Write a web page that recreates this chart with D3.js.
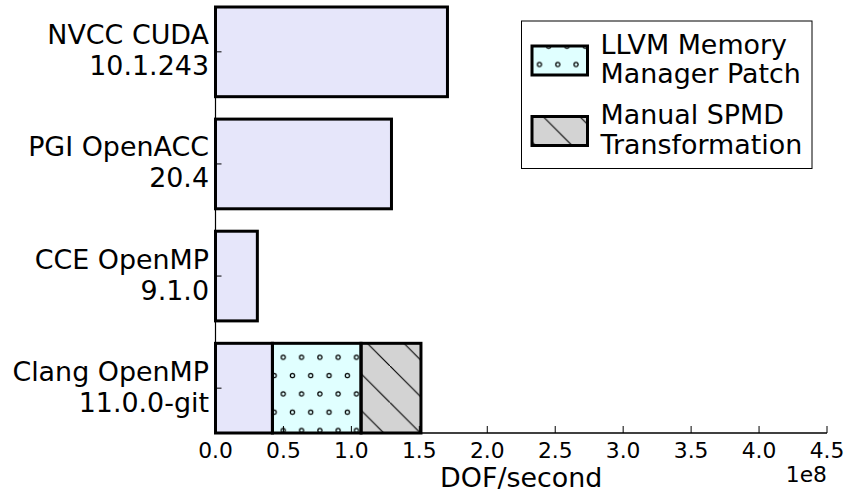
<!DOCTYPE html>
<html>
<head>
<meta charset="utf-8">
<script src="https://cdn.jsdelivr.net/npm/d3@7"></script>
<style>
  html, body { margin: 0; padding: 0; background: #fff; }
  svg { display: block; font-family: "DejaVu Sans", sans-serif; }
</style>
</head>
<body>
<div id="chart"></div>
<script>
// ---- data ----
const categories = [
  ["NVCC CUDA", "10.1.243"],
  ["PGI OpenACC", "20.4"],
  ["CCE OpenMP", "9.1.0"],
  ["Clang OpenMP", "11.0.0-git"]
];
const baseValues = [1.707e8, 1.295e8, 0.308e8, 0.419e8];
const llvmPatchValues = [0, 0, 0, 0.652e8];
const spmdValues = [0, 0, 0, 0.441e8];
const xTicks = [0, 0.5e8, 1.0e8, 1.5e8, 2.0e8, 2.5e8, 3.0e8, 3.5e8, 4.0e8, 4.5e8];
const xTickLabels = ["0.0", "0.5", "1.0", "1.5", "2.0", "2.5", "3.0", "3.5", "4.0", "4.5"];
const legendLabels = [["LLVM Memory", "Manager Patch"], ["Manual SPMD", "Transformation"]];
const xLabel = "DOF/second";
const offsetLabel = "1e8";

const W = 848, H = 496;
const plot = { left: 215.5, right: 827, top: 7, bottom: 433 };
const bigFont = 26.9, smallFont = 21.8;

const svg = d3.select("#chart").append("svg").attr("width", W).attr("height", H);
const defs = svg.append("defs");

// circle hatch
const cp = 18.3;
const pc = defs.append("pattern").attr("id", "hatchO").attr("patternUnits", "userSpaceOnUse")
  .attr("x", 8.8).attr("y", 27.9).attr("width", cp).attr("height", cp * 2);
[[0,0],[cp,0],[0,2*cp],[cp,2*cp],[cp/2,cp]].forEach(([cx, cy]) => {
  pc.append("circle").attr("cx", cx).attr("cy", cy).attr("r", 2.1)
    .attr("fill", "none").attr("stroke", "#000").attr("stroke-width", 1.2);
});
// diagonal hatch
const dp = 36.6;
const pd = defs.append("pattern").attr("id", "hatchD").attr("patternUnits", "userSpaceOnUse")
  .attr("x", 24).attr("y", 0).attr("width", dp).attr("height", dp);
pd.append("line").attr("x1", -2).attr("y1", -2).attr("x2", dp + 2).attr("y2", dp + 2)
  .attr("stroke", "#000").attr("stroke-width", 1.1);

const x = d3.scaleLinear().domain([0, 4.5e8]).range([plot.left, plot.right]);
const y = d3.scaleBand().domain(d3.range(categories.length))
  .range([plot.top, plot.bottom]).paddingInner(0.2).paddingOuter(0);

const segs = [];
categories.forEach((c, i) => {
  const b = baseValues[i], l = llvmPatchValues[i], s = spmdValues[i];
  segs.push({ i, x0: 0, x1: b, fill: "#e6e6fa", pat: null });
  if (l > 0) segs.push({ i, x0: b, x1: b + l, fill: "#e0ffff", pat: "url(#hatchO)" });
  if (s > 0) segs.push({ i, x0: b + l, x1: b + l + s, fill: "#d3d3d3", pat: "url(#hatchD)" });
});

// axes spines
svg.append("line").attr("x1", plot.left).attr("x2", plot.left).attr("y1", plot.top).attr("y2", plot.bottom)
  .attr("stroke", "#000").attr("stroke-width", 1.2);
svg.append("line").attr("x1", plot.left).attr("x2", plot.right).attr("y1", plot.bottom).attr("y2", plot.bottom)
  .attr("stroke", "#000").attr("stroke-width", 1.5);

const g = svg.append("g");
segs.forEach(d => {
  const rx = x(d.x0), rw = x(d.x1) - x(d.x0), ry = y(d.i), rh = y.bandwidth();
  g.append("rect").attr("x", rx).attr("y", ry).attr("width", rw).attr("height", rh).attr("fill", d.fill);
  if (d.pat) g.append("rect").attr("x", rx).attr("y", ry).attr("width", rw).attr("height", rh).attr("fill", d.pat);
});
segs.forEach(d => {
  g.append("rect").attr("x", x(d.x0)).attr("y", y(d.i)).attr("width", x(d.x1) - x(d.x0)).attr("height", y.bandwidth())
    .attr("fill", "none").attr("stroke", "#000").attr("stroke-width", 3);
});

// x ticks (inward)
xTicks.forEach((t, k) => {
  svg.append("line").attr("x1", x(t)).attr("x2", x(t)).attr("y1", plot.bottom).attr("y2", plot.bottom - 7)
    .attr("stroke", "#000").attr("stroke-width", 1);
  svg.append("text").attr("x", x(t)).attr("y", 457.5).attr("text-anchor", "middle")
    .attr("font-size", smallFont).attr("fill", "#000").text(xTickLabels[k]);
});
// y ticks (inward) and labels
categories.forEach((c, i) => {
  const cy = y(i) + y.bandwidth() / 2;
  svg.append("line").attr("x1", plot.left).attr("x2", plot.left + 6).attr("y1", cy).attr("y2", cy)
    .attr("stroke", "#000").attr("stroke-width", 1);
  const t = svg.append("text").attr("text-anchor", "end").attr("font-size", bigFont).attr("fill", "#000");
  t.append("tspan").attr("x", 209).attr("y", cy - 7.5).text(c[0]);
  t.append("tspan").attr("x", 209).attr("y", cy + 23.5).text(c[1]);
});

svg.append("text").attr("x", (plot.left + plot.right) / 2).attr("y", 487).attr("text-anchor", "middle")
  .attr("font-size", bigFont).attr("fill", "#000").text(xLabel);
svg.append("text").attr("x", 827).attr("y", 482).attr("text-anchor", "end")
  .attr("font-size", smallFont).attr("fill", "#000").text(offsetLabel);

// legend
const lg = svg.append("g");
lg.append("rect").attr("x", 521.5).attr("y", 21).attr("width", 290.5).attr("height", 147.5)
  .attr("fill", "#fff").attr("stroke", "#000").attr("stroke-width", 1);
const legendItems = [
  { fill: "#e0ffff", pat: "url(#hatchO)", y: 46, lab: legendLabels[0] },
  { fill: "#d3d3d3", pat: "url(#hatchD)", y: 116.5, lab: legendLabels[1] }
];
legendItems.forEach(it => {
  lg.append("rect").attr("x", 532).attr("y", it.y).attr("width", 55.5).attr("height", 29).attr("fill", it.fill);
  lg.append("rect").attr("x", 532).attr("y", it.y).attr("width", 55.5).attr("height", 29).attr("fill", it.pat);
  lg.append("rect").attr("x", 532).attr("y", it.y).attr("width", 55.5).attr("height", 29)
    .attr("fill", "none").attr("stroke", "#000").attr("stroke-width", 3);
  const t = lg.append("text").attr("font-size", bigFont).attr("fill", "#000");
  t.append("tspan").attr("x", 600.5).attr("y", it.y + 7.5).text(it.lab[0]);
  t.append("tspan").attr("x", 600.5).attr("y", it.y + 37).text(it.lab[1]);
});
</script>
</body>
</html>
